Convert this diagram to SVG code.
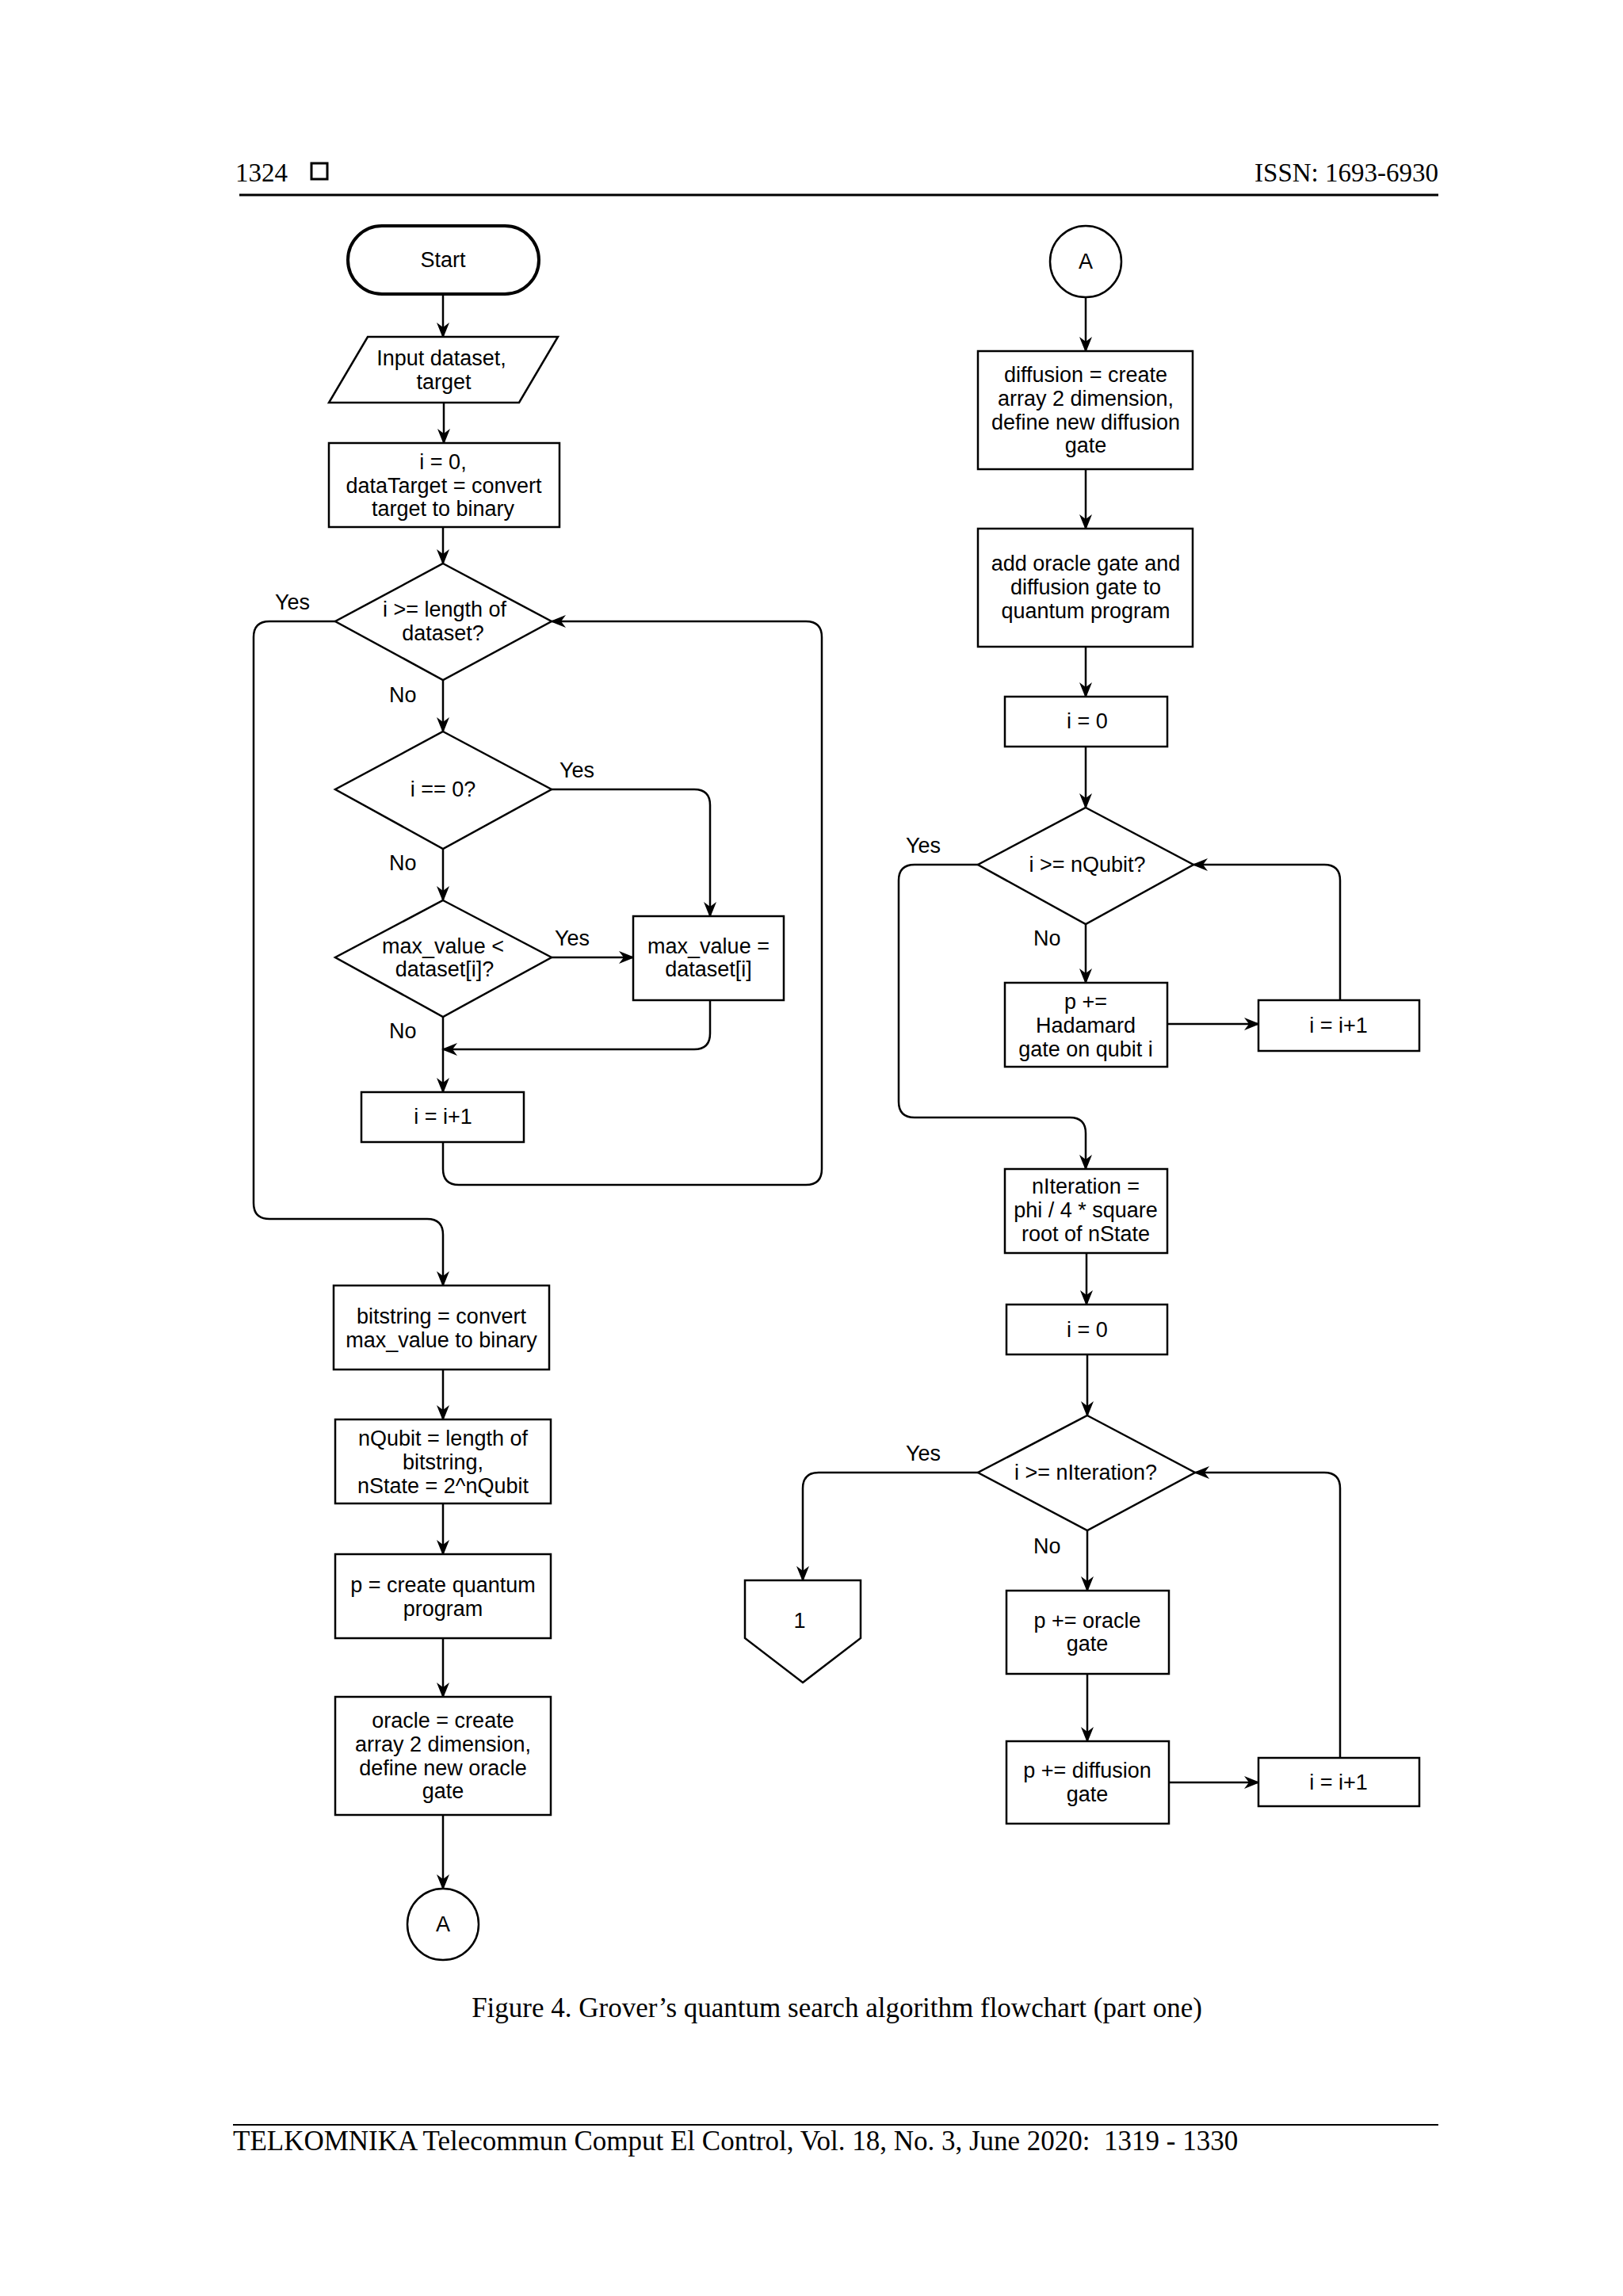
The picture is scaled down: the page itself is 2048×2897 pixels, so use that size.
<svg xmlns="http://www.w3.org/2000/svg" width="2048" height="2897" viewBox="0 0 2048 2897">
<style>
.s{fill:#fff;stroke:#000;stroke-width:2.5}
.t{font-family:"Liberation Sans",Arial,sans-serif;font-size:27px;text-anchor:middle;fill:#000}
.l{font-family:"Liberation Sans",Arial,sans-serif;font-size:27px;fill:#000}
.p{font-family:"Liberation Serif","Times New Roman",serif;font-size:33px;fill:#000}
.c{fill:none;stroke:#000;stroke-width:2.5;stroke-linejoin:round}
</style>
<defs>
<marker id="a" viewBox="0 0 20 20" refX="18" refY="10" markerWidth="20" markerHeight="20" markerUnits="userSpaceOnUse" orient="auto">
<path d="M0,2 L20,10 L0,18 L6,10 Z" fill="#000"/>
</marker>
</defs>
<rect width="2048" height="2897" fill="#fff"/>
<g id="header">
<text class="p" x="297" y="229">1324</text>
<rect x="393" y="206" width="20" height="20" fill="none" stroke="#000" stroke-width="3"/>
<text class="p" x="1815" y="229" text-anchor="end">ISSN: 1693-6930</text>
<line x1="302" y1="246" x2="1815" y2="246" stroke="#000" stroke-width="3"/>
</g>
<g id="connectors">
<path class="c" marker-end="url(#a)" d="M559,371 V425"/>
<path class="c" marker-end="url(#a)" d="M560,508 V559"/>
<path class="c" marker-end="url(#a)" d="M559,665 V711"/>
<path class="c" marker-end="url(#a)" d="M423,784 H340 Q320,784 320,804 V1518 Q320,1538 340,1538 H539 Q559,1538 559,1558 V1622"/>
<path class="c" marker-end="url(#a)" d="M559,858 V923"/>
<path class="c" marker-end="url(#a)" d="M696,996 H876 Q896,996 896,1016 V1156"/>
<path class="c" marker-end="url(#a)" d="M559,1071 V1136"/>
<path class="c" marker-end="url(#a)" d="M696,1208 H799"/>
<path class="c" marker-end="url(#a)" d="M896,1262 V1304 Q896,1324 876,1324 H559"/>
<path class="c" marker-end="url(#a)" d="M559,1283 V1378"/>
<path class="c" marker-end="url(#a)" d="M559,1441 V1475 Q559,1495 579,1495 H1017 Q1037,1495 1037,1475 V804 Q1037,784 1017,784 H696"/>
<path class="c" marker-end="url(#a)" d="M559,1728 V1791"/>
<path class="c" marker-end="url(#a)" d="M559,1897 V1961"/>
<path class="c" marker-end="url(#a)" d="M559,2067 V2141"/>
<path class="c" marker-end="url(#a)" d="M559,2290 V2383"/>
<path class="c" marker-end="url(#a)" d="M1370,375 V443"/>
<path class="c" marker-end="url(#a)" d="M1370,592 V667"/>
<path class="c" marker-end="url(#a)" d="M1370,816 V879"/>
<path class="c" marker-end="url(#a)" d="M1370,942 V1019"/>
<path class="c" marker-end="url(#a)" d="M1234,1091 H1154 Q1134,1091 1134,1111 V1390 Q1134,1410 1154,1410 H1350 Q1370,1410 1370,1430 V1475"/>
<path class="c" marker-end="url(#a)" d="M1370,1166 V1240"/>
<path class="c" marker-end="url(#a)" d="M1473,1292 H1588"/>
<path class="c" marker-end="url(#a)" d="M1691,1262 V1111 Q1691,1091 1671,1091 H1506"/>
<path class="c" marker-end="url(#a)" d="M1371,1581 V1646"/>
<path class="c" marker-end="url(#a)" d="M1372,1709 V1786"/>
<path class="c" marker-end="url(#a)" d="M1234,1858 H1033 Q1013,1858 1013,1878 V1994"/>
<path class="c" marker-end="url(#a)" d="M1372,1931 V2007"/>
<path class="c" marker-end="url(#a)" d="M1372,2112 V2197"/>
<path class="c" marker-end="url(#a)" d="M1475,2249 H1588"/>
<path class="c" marker-end="url(#a)" d="M1691,2218 V1878 Q1691,1858 1671,1858 H1508"/>
</g>
<g id="labels">
<text class="l" x="347" y="769">Yes</text>
<text class="l" x="491" y="886">No</text>
<text class="l" x="706" y="981">Yes</text>
<text class="l" x="491" y="1098">No</text>
<text class="l" x="700" y="1193">Yes</text>
<text class="l" x="491" y="1310">No</text>
<text class="l" x="1143" y="1076">Yes</text>
<text class="l" x="1304" y="1193">No</text>
<text class="l" x="1143" y="1843">Yes</text>
<text class="l" x="1304" y="1960">No</text>
</g>
<g id="start"><rect class="s" x="439" y="285" width="241" height="86" rx="43" style="stroke-width:4"/><text class="t" x="559" y="337">Start</text></g>
<g id="input"><polygon class="s" points="464,425 704,425 655,508 415,508"/><text class="t" x="557" y="461">Input dataset,</text><text class="t" x="560" y="491">target</text></g>
<g id="init"><rect class="s" x="415" y="559" width="291" height="106"/><text class="t" x="559" y="592">i = 0,</text><text class="t" x="560" y="622">dataTarget = convert</text><text class="t" x="559" y="651">target to binary</text></g>
<g id="d1"><polygon class="s" points="559,711 696,784 559,858 423,784"/><text class="t" x="561" y="778">i &gt;= length of</text><text class="t" x="559" y="808">dataset?</text></g>
<g id="d2"><polygon class="s" points="559,923 696,996 559,1071 423,996"/><text class="t" x="559" y="1005">i == 0?</text></g>
<g id="d3"><polygon class="s" points="559,1136 696,1208 559,1283 423,1208"/><text class="t" x="559" y="1203">max_value &lt;</text><text class="t" x="561" y="1232">dataset[i]?</text></g>
<g id="maxv"><rect class="s" x="799" y="1156" width="190" height="106"/><text class="t" x="894" y="1203">max_value =</text><text class="t" x="894" y="1232">dataset[i]</text></g>
<g id="inc1"><rect class="s" x="456" y="1378" width="205" height="63"/><text class="t" x="559" y="1418">i = i+1</text></g>
<g id="bits"><rect class="s" x="421" y="1622" width="272" height="106"/><text class="t" x="557" y="1670">bitstring = convert</text><text class="t" x="557" y="1700">max_value to binary</text></g>
<g id="nq"><rect class="s" x="423" y="1791" width="272" height="106"/><text class="t" x="559" y="1824">nQubit = length of</text><text class="t" x="559" y="1854">bitstring,</text><text class="t" x="559" y="1884">nState = 2^nQubit</text></g>
<g id="p"><rect class="s" x="423" y="1961" width="272" height="106"/><text class="t" x="559" y="2009">p = create quantum</text><text class="t" x="559" y="2039">program</text></g>
<g id="oracle"><rect class="s" x="423" y="2141" width="272" height="149"/><text class="t" x="559" y="2180">oracle = create</text><text class="t" x="559" y="2210">array 2 dimension,</text><text class="t" x="559" y="2240">define new oracle</text><text class="t" x="559" y="2269">gate</text></g>
<g id="A1"><circle class="s" cx="559" cy="2428" r="45"/><text class="t" x="559" y="2437">A</text></g>
<g id="A2"><circle class="s" cx="1370" cy="330" r="45"/><text class="t" x="1370" y="339">A</text></g>
<g id="diff"><rect class="s" x="1234" y="443" width="271" height="149"/><text class="t" x="1370" y="482">diffusion = create</text><text class="t" x="1370" y="512">array 2 dimension,</text><text class="t" x="1370" y="542">define new diffusion</text><text class="t" x="1370" y="571">gate</text></g>
<g id="add"><rect class="s" x="1234" y="667" width="271" height="149"/><text class="t" x="1370" y="720">add oracle gate and</text><text class="t" x="1370" y="750">diffusion gate to</text><text class="t" x="1370" y="780">quantum program</text></g>
<g id="i0a"><rect class="s" x="1268" y="879" width="205" height="63"/><text class="t" x="1372" y="919">i = 0</text></g>
<g id="d4"><polygon class="s" points="1370,1019 1506,1091 1370,1166 1234,1091"/><text class="t" x="1372" y="1100">i &gt;= nQubit?</text></g>
<g id="had"><rect class="s" x="1268" y="1240" width="205" height="106"/><text class="t" x="1370" y="1273">p +=</text><text class="t" x="1370" y="1303">Hadamard</text><text class="t" x="1370" y="1333">gate on qubit i</text></g>
<g id="inc2"><rect class="s" x="1588" y="1262" width="203" height="64"/><text class="t" x="1689" y="1303">i = i+1</text></g>
<g id="nit"><rect class="s" x="1268" y="1475" width="205" height="106"/><text class="t" x="1370" y="1506">nIteration =</text><text class="t" x="1370" y="1536">phi / 4 * square</text><text class="t" x="1370" y="1566">root of nState</text></g>
<g id="i0b"><rect class="s" x="1270" y="1646" width="203" height="63"/><text class="t" x="1372" y="1687">i = 0</text></g>
<g id="d5"><polygon class="s" points="1372,1786 1508,1858 1372,1931 1234,1858"/><text class="t" x="1370" y="1867">i &gt;= nIteration?</text></g>
<g id="off1"><polygon class="s" points="940,1994 1086,1994 1086,2067 1013,2123 940,2067"/><text class="t" x="1009" y="2054">1</text></g>
<g id="por"><rect class="s" x="1270" y="2007" width="205" height="105"/><text class="t" x="1372" y="2054">p += oracle</text><text class="t" x="1372" y="2083">gate</text></g>
<g id="pdf"><rect class="s" x="1270" y="2197" width="205" height="104"/><text class="t" x="1372" y="2243">p += diffusion</text><text class="t" x="1372" y="2273">gate</text></g>
<g id="inc3"><rect class="s" x="1588" y="2218" width="203" height="61"/><text class="t" x="1689" y="2258">i = i+1</text></g>
<g id="footer">
<text class="p" x="1056" y="2545" text-anchor="middle" style="font-size:35px">Figure 4. Grover’s quantum search algorithm flowchart (part one)</text>
<line x1="294" y1="2681" x2="1815" y2="2681" stroke="#000" stroke-width="2"/>
<text class="p" x="294" y="2713" style="font-size:35px" xml:space="preserve">TELKOMNIKA Telecommun Comput El Control, Vol. 18, No. 3, June 2020:  1319 - 1330</text>
</g>
</svg>
